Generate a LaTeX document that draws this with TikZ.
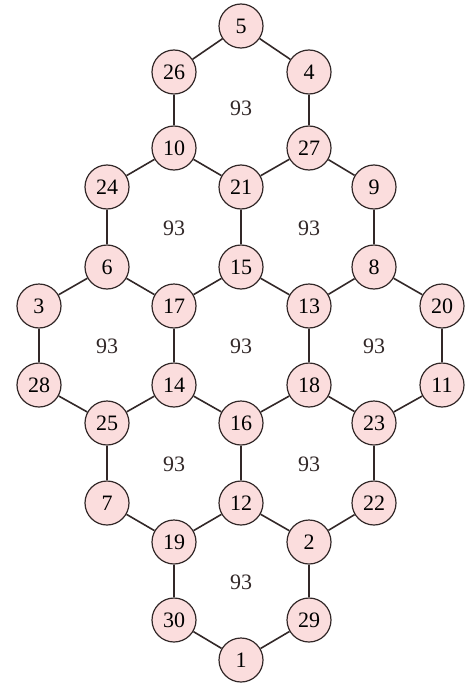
\documentclass[tikz,border=0pt]{standalone}
\usepackage{fontspec}
\setmainfont{Liberation Serif}
\usepackage{tikz}
\usetikzlibrary{positioning}
\definecolor{merahMuda}{RGB}{251,221,221}
\definecolor{abuGelap}{RGB}{50,40,40}

\begin{document}
\begin{tikzpicture}[
  x=0.75pt, y=-0.75pt,
  titik/.style={draw=abuGelap, circle, line width=0.9pt, fill=merahMuda,
    minimum size=33pt, inner sep=0pt, font=\fontsize{16.5}{16.5}\selectfont},
  angka/.style={font=\fontsize{16.5}{16.5}\selectfont, text=abuGelap},
  garis/.style={draw=abuGelap, line width=1.2pt}
]
  \useasboundingbox (0,0) rectangle (464,685);

  % baris atas
  \node[titik] (n5)  at (241,26) {5};
  \node[titik] (n26) at (174,72) {26};
  \node[titik] (n4)  at (309,72) {4};
  \node[titik] (n10) at (174,148) {10};
  \node[titik] (n27) at (309,148) {27};
  \node[titik] (n24) at (107,187) {24};
  \node[titik] (n21) at (241,187) {21};
  \node[titik] (n9)  at (374,187) {9};
  \node[titik] (n6)  at (107,267) {6};
  \node[titik] (n15) at (241,267) {15};
  \node[titik] (n8)  at (374,267) {8};
  \node[titik] (n3)  at (39,306) {3};
  \node[titik] (n17) at (174,306) {17};
  \node[titik] (n13) at (309,306) {13};
  \node[titik] (n20) at (442,306) {20};
  \node[titik] (n28) at (39,385) {28};
  \node[titik] (n14) at (174,385) {14};
  \node[titik] (n18) at (309,385) {18};
  \node[titik] (n11) at (442,385) {11};
  \node[titik] (n25) at (107,423) {25};
  \node[titik] (n16) at (241,423) {16};
  \node[titik] (n23) at (374,423) {23};
  \node[titik] (n7)  at (107,503) {7};
  \node[titik] (n12) at (241,503) {12};
  \node[titik] (n22) at (374,503) {22};
  \node[titik] (n19) at (174,542) {19};
  \node[titik] (n2)  at (309,542) {2};
  \node[titik] (n30) at (174,620) {30};
  \node[titik] (n29) at (309,620) {29};
  \node[titik] (n1)  at (241,660) {1};

  % label tengah segi enam
  \node[angka] (h1) at (241,108) {93};
  \node[angka] (h2) at (174,228) {93};
  \node[angka] (h3) at (309,228) {93};
  \node[angka] (h4) at (107,346) {93};
  \node[angka] (h5) at (241,346) {93};
  \node[angka] (h6) at (374,346) {93};
  \node[angka] (h7) at (174,464) {93};
  \node[angka] (h8) at (309,464) {93};
  \node[angka] (h9) at (241,582) {93};

  % sisi
  \draw[garis] (n5) -- (n26);  \draw[garis] (n5) -- (n4);
  \draw[garis] (n26) -- (n10); \draw[garis] (n4) -- (n27);
  \draw[garis] (n10) -- (n21); \draw[garis] (n27) -- (n21);
  \draw[garis] (n10) -- (n24); \draw[garis] (n27) -- (n9);
  \draw[garis] (n24) -- (n6);  \draw[garis] (n21) -- (n15);
  \draw[garis] (n9) -- (n8);
  \draw[garis] (n6) -- (n3);   \draw[garis] (n6) -- (n17);
  \draw[garis] (n15) -- (n17); \draw[garis] (n15) -- (n13);
  \draw[garis] (n8) -- (n13);  \draw[garis] (n8) -- (n20);
  \draw[garis] (n3) -- (n28);  \draw[garis] (n17) -- (n14);
  \draw[garis] (n13) -- (n18); \draw[garis] (n20) -- (n11);
  \draw[garis] (n28) -- (n25); \draw[garis] (n14) -- (n25);
  \draw[garis] (n14) -- (n16); \draw[garis] (n18) -- (n16);
  \draw[garis] (n18) -- (n23); \draw[garis] (n11) -- (n23);
  \draw[garis] (n25) -- (n7);  \draw[garis] (n16) -- (n12);
  \draw[garis] (n23) -- (n22);
  \draw[garis] (n7) -- (n19);  \draw[garis] (n12) -- (n19);
  \draw[garis] (n12) -- (n2);  \draw[garis] (n22) -- (n2);
  \draw[garis] (n19) -- (n30); \draw[garis] (n2) -- (n29);
  \draw[garis] (n30) -- (n1);  \draw[garis] (n29) -- (n1);
\end{tikzpicture}
\end{document}
